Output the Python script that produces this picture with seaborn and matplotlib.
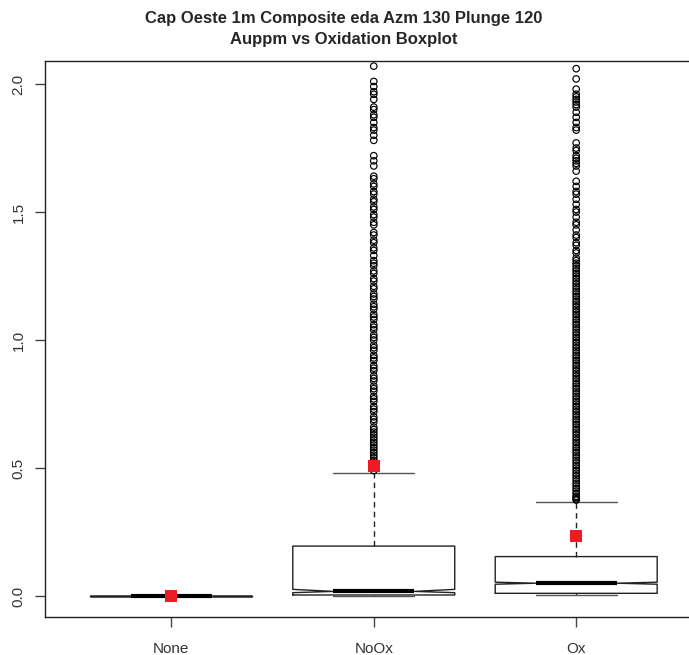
"""
Au ppm by oxidation state: notched boxplot with means, R-style.
"""

import matplotlib
matplotlib.use('Agg')
import matplotlib.pyplot as plt
import numpy as np
import pandas as pd
import seaborn as sn

# categories and box statistics
groups = ['None', 'NoOx', 'Ox']
q1 = [0.0, 0.004, 0.0105]
medians = [0.0, 0.018, 0.050]
q3 = [0.0, 0.195, 0.154]
whisker_lo = [0.0, 0.0, 0.004]
whisker_hi = [0.0, 0.482, 0.368]
notch_lo = [0.0, 0.013, 0.046]
notch_hi = [0.0, 0.026, 0.054]
means = [0.0, 0.508, 0.236]

# outliers (only the visible part, below the 2.09 clip)
out_none = []
out_noox = [2.07, 2.01, 1.99, 1.97, 1.96, 1.94, 1.91, 1.90, 1.88, 1.87, 1.85, 1.83,
            1.82, 1.80, 1.78, 1.72, 1.70, 1.68, 1.64, 1.63, 1.61, 1.60, 1.58, 1.57,
            1.55, 1.54, 1.52, 1.51, 1.49, 1.48, 1.46, 1.45, 1.42, 1.41, 1.39, 1.38,
            1.36, 1.35, 1.33, 1.31, 1.30, 1.29, 1.27, 1.26, 1.24, 1.23, 1.21, 1.20,
            1.18, 1.17, 1.16, 1.14, 1.13, 1.12, 1.10, 1.09, 1.08, 1.06, 1.05, 1.04,
            1.02, 1.01, 1.00, 0.98, 0.97, 0.96, 0.94, 0.93, 0.92, 0.90, 0.89, 0.88,
            0.86, 0.85, 0.84, 0.82, 0.81, 0.80, 0.78, 0.77, 0.76, 0.74, 0.73, 0.72,
            0.70, 0.69, 0.68, 0.66, 0.65, 0.64, 0.63, 0.62, 0.61, 0.60, 0.59, 0.58,
            0.57, 0.56, 0.55, 0.54, 0.53, 0.52, 0.51, 0.50, 0.49]
out_ox = [2.06, 2.02, 1.98, 1.96, 1.95, 1.94, 1.93, 1.92, 1.91, 1.89, 1.87, 1.85,
          1.83, 1.82, 1.77, 1.75, 1.74, 1.72, 1.71, 1.70, 1.69, 1.68, 1.66, 1.62,
          1.60, 1.58, 1.57, 1.55, 1.53, 1.51, 1.50, 1.48, 1.46, 1.45, 1.43, 1.41,
          1.40, 1.38, 1.37, 1.35, 1.34, 1.32, 1.31, 1.30, 1.29, 1.28, 1.27, 1.26,
          1.25, 1.24, 1.23, 1.22, 1.21, 1.20, 1.19, 1.18, 1.17, 1.16, 1.15, 1.14,
          1.13, 1.12, 1.11, 1.10, 1.09, 1.08, 1.07, 1.06, 1.05, 1.04, 1.03, 1.02,
          1.01, 1.00, 0.99, 0.98, 0.97, 0.96, 0.95, 0.94, 0.93, 0.92, 0.91, 0.90,
          0.89, 0.88, 0.87, 0.86, 0.85, 0.84, 0.83, 0.82, 0.81, 0.80, 0.79, 0.78,
          0.77, 0.76, 0.75, 0.74, 0.73, 0.72, 0.71, 0.70, 0.69, 0.68, 0.67, 0.66,
          0.65, 0.64, 0.63, 0.62, 0.61, 0.60, 0.59, 0.58, 0.57, 0.56, 0.55, 0.54,
          0.53, 0.52, 0.51, 0.50, 0.49, 0.48, 0.47, 0.46, 0.45, 0.44, 0.43, 0.42,
          0.41, 0.40, 0.39, 0.385, 0.38, 0.375]
outliers = [out_none, out_noox, out_ox]

sn.set_theme(style='white')
plt.rcParams['font.family'] = ['Liberation Sans', 'DejaVu Sans']

fig = plt.figure(figsize=(6.89, 6.55), dpi=100)
ax = fig.add_axes([45 / 689, 1 - 617 / 655, 1.002 - 45 / 689, (617 - 61) / 655])

stats = []
for i, g in enumerate(groups):
    stats.append(dict(label=g, q1=q1[i], med=medians[i], q3=q3[i],
                      whislo=whisker_lo[i], whishi=whisker_hi[i],
                      cilo=notch_lo[i], cihi=notch_hi[i], fliers=[]))

pos = np.arange(len(groups))
ax.bxp(stats, positions=pos, widths=0.8, capwidths=0.4, shownotches=True,
       showfliers=False, showmeans=False, patch_artist=False,
       boxprops=dict(color='#222222', linewidth=1.0),
       whiskerprops=dict(color='#222222', linewidth=1.0, linestyle=(0, (4, 3))),
       capprops=dict(color='#555555', linewidth=1.0),
       medianprops=dict(color='black', linewidth=3.0, solid_capstyle='butt'))

df_out = pd.DataFrame({'x': np.concatenate([[i] * len(o) for i, o in enumerate(outliers)]),
                       'y': np.concatenate([np.asarray(o, dtype=float) for o in outliers])})
sn.scatterplot(data=df_out, x='x', y='y', ax=ax, marker='o', s=22,
               facecolors='none', edgecolor='black', linewidth=0.85, zorder=3)

df_mean = pd.DataFrame({'x': pos, 'y': means})
sn.scatterplot(data=df_mean, x='x', y='y', ax=ax, marker='s', s=75,
               color='#ED1C24', edgecolor='none', zorder=6)

ax.set_xlim(-0.624, 2.564)
ax.set_ylim(-0.082, 2.09)
ax.set_xticks(pos)
ax.set_xticklabels(groups)
ax.set_yticks([0.0, 0.5, 1.0, 1.5, 2.0])
ax.set_yticklabels(['0.0', '0.5', '1.0', '1.5', '2.0'], rotation=90, va='center')
ax.set_xlabel('')
ax.set_ylabel('')
ax.tick_params(axis='both', which='both', length=7, width=1, color='#444444',
               labelsize=11, labelcolor='#333333', left=True, bottom=True)
ax.tick_params(axis='x', pad=11)
ax.tick_params(axis='y', pad=7)
for side in ['left', 'bottom', 'top']:
    ax.spines[side].set_color('#222222')
    ax.spines[side].set_linewidth(1.0)
ax.spines['right'].set_visible(False)

fig.text(344 / 689, 1 - 29 / 655, 'Cap Oeste 1m Composite eda Azm 130 Plunge 120\nAuppm vs Oxidation Boxplot',
         ha='center', va='center', fontsize=12, fontweight='bold', linespacing=1.45)

fig.savefig('out.png', dpi=100, facecolor='white')
